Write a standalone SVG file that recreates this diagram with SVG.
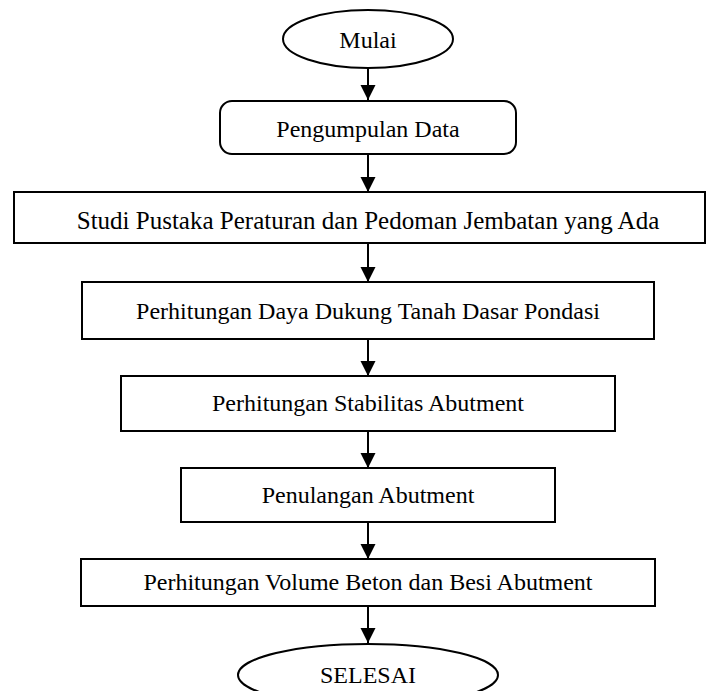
<svg xmlns="http://www.w3.org/2000/svg" width="707" height="691" viewBox="0 0 707 691">
<style>
.s{fill:#fff;stroke:#000;stroke-width:2}
.t{font-family:"Liberation Serif","Times New Roman",serif;font-size:24px;fill:#000;text-anchor:middle;dominant-baseline:central}
.c{stroke:#000;stroke-width:2;fill:none}
</style>
<defs>
<marker id="ah" markerUnits="userSpaceOnUse" markerWidth="16" markerHeight="16" viewBox="0 0 16 16" refX="15" refY="8" orient="auto">
<path d="M0,0.5 L15,8 L0,15.5 Z" fill="#000"/>
</marker>
</defs>
<rect width="707" height="691" fill="#fff"/>
<g id="connectors">
<line class="c" x1="368" y1="68" x2="368" y2="100" marker-end="url(#ah)"/>
<line class="c" x1="368" y1="154" x2="368" y2="192" marker-end="url(#ah)"/>
<line class="c" x1="368" y1="243" x2="368" y2="282" marker-end="url(#ah)"/>
<line class="c" x1="368" y1="339" x2="368" y2="376" marker-end="url(#ah)"/>
<line class="c" x1="368" y1="431" x2="368" y2="468" marker-end="url(#ah)"/>
<line class="c" x1="368" y1="522" x2="368" y2="559" marker-end="url(#ah)"/>
<line class="c" x1="368" y1="606" x2="368" y2="643" marker-end="url(#ah)"/>
</g>
<g id="mulai">
<ellipse class="s" cx="368" cy="39" rx="85" ry="29"/>
<text class="t" x="368" y="40">Mulai</text>
</g>
<g id="pengumpulan">
<rect class="s" x="220" y="101" width="296" height="53" rx="12"/>
<text class="t" x="368" y="129">Pengumpulan Data</text>
</g>
<g id="studi">
<rect class="s" x="14" y="192" width="691" height="51"/>
<text class="t" x="368" y="220" style="font-size:25px">Studi Pustaka Peraturan dan Pedoman Jembatan yang Ada</text>
</g>
<g id="daya-dukung">
<rect class="s" x="82" y="282" width="572" height="57"/>
<text class="t" x="368" y="311">Perhitungan Daya Dukung Tanah Dasar Pondasi</text>
</g>
<g id="stabilitas">
<rect class="s" x="121" y="376" width="494" height="55"/>
<text class="t" x="368" y="403">Perhitungan Stabilitas Abutment</text>
</g>
<g id="penulangan">
<rect class="s" x="181" y="468" width="374" height="54"/>
<text class="t" x="368" y="495">Penulangan Abutment</text>
</g>
<g id="volume">
<rect class="s" x="81" y="559" width="574" height="47"/>
<text class="t" x="368" y="582">Perhitungan Volume Beton dan Besi Abutment</text>
</g>
<g id="selesai">
<ellipse class="s" cx="368" cy="675" rx="130" ry="31"/>
<text class="t" x="368" y="675">SELESAI</text>
</g>
</svg>
